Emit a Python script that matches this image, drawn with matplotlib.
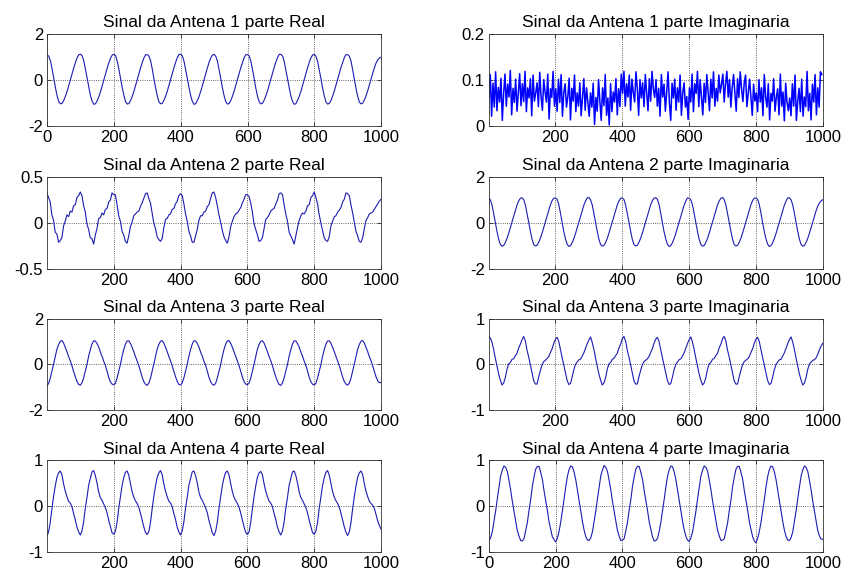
import matplotlib
matplotlib.use('Agg')

import numpy as np
import matplotlib.pyplot as plt

# sample index grid, one value every 5 samples (noise panel: every 4)
x = np.arange(0, 1001, 5)
x_noise = np.arange(1, 1001, 4)

# Antena 1, parte real
a1_real = [
    1.10, 1.04, 0.83, 0.46, 0.04, -0.36, -0.71, -0.96, -1.04, -1.01, -0.87, -0.69, -0.47, -0.21, 0.06, 0.31, 0.56, 0.79, 0.99, 1.11,
    1.13, 1.05, 0.81, 0.44, 0.06, -0.34, -0.70, -0.94, -1.06, -1.03, -0.89, -0.71, -0.49, -0.23, 0.04, 0.29, 0.54, 0.77, 0.97, 1.10,
    1.12, 1.06, 0.82, 0.45, 0.05, -0.35, -0.69, -0.95, -1.05, -1.02, -0.88, -0.70, -0.48, -0.22, 0.05, 0.30, 0.55, 0.78, 0.98, 1.11,
    1.11, 1.04, 0.83, 0.46, 0.03, -0.36, -0.71, -0.96, -1.04, -1.01, -0.87, -0.70, -0.47, -0.21, 0.06, 0.31, 0.56, 0.79, 0.99, 1.12,
    1.13, 1.05, 0.81, 0.44, 0.05, -0.34, -0.70, -0.94, -1.06, -1.03, -0.88, -0.71, -0.49, -0.23, 0.04, 0.29, 0.54, 0.78, 0.97, 1.10,
    1.12, 1.04, 0.82, 0.45, 0.06, -0.35, -0.69, -0.95, -1.05, -1.02, -0.89, -0.70, -0.48, -0.22, 0.05, 0.30, 0.55, 0.77, 0.98, 1.11,
    1.11, 1.06, 0.83, 0.46, 0.04, -0.36, -0.71, -0.96, -1.04, -1.01, -0.87, -0.69, -0.47, -0.21, 0.06, 0.31, 0.56, 0.79, 0.99, 1.12,
    1.13, 1.05, 0.81, 0.44, 0.05, -0.34, -0.70, -0.94, -1.06, -1.03, -0.88, -0.71, -0.49, -0.23, 0.04, 0.29, 0.54, 0.78, 0.97, 1.10,
    1.12, 1.04, 0.82, 0.45, 0.06, -0.35, -0.69, -0.95, -1.05, -1.02, -0.89, -0.70, -0.48, -0.22, 0.05, 0.30, 0.55, 0.77, 0.98, 1.11,
    1.11, 1.05, 0.83, 0.46, 0.04, -0.36, -0.71, -0.96, -1.04, -1.01, -0.87, -0.69, -0.47, -0.21, 0.06, 0.30, 0.53, 0.74, 0.88, 0.96,
    1.00,
]

# Antena 1, parte imaginaria (ruido)
a1_imag = [
    0.062, 0.112, 0.021, 0.093, 0.041, 0.118, 0.033, 0.084, 0.052, 0.104, 0.012, 0.071, 0.113, 0.043, 0.091, 0.063, 0.121, 0.024, 0.082, 0.051, 0.102, 0.032, 0.073, 0.114, 0.044,
    0.092, 0.053, 0.119, 0.031, 0.083, 0.061, 0.103, 0.022, 0.111, 0.054, 0.072, 0.094, 0.042, 0.117, 0.064, 0.034, 0.101, 0.074, 0.052, 0.113, 0.015, 0.081, 0.062, 0.119, 0.043,
    0.081, 0.032, 0.102, 0.051, 0.112, 0.021, 0.073, 0.092, 0.041, 0.063, 0.104, 0.013, 0.082, 0.054, 0.111, 0.031, 0.072, 0.043, 0.094, 0.022, 0.061, 0.103, 0.034, 0.083, 0.052,
    0.021, 0.072, 0.041, 0.093, 0.003, 0.062, 0.032, 0.101, 0.053, 0.012, 0.083, 0.044, 0.112, 0.023, 0.061, 0.002, 0.092, 0.031, 0.074, 0.052, 0.103, 0.024, 0.081, 0.042, 0.113,
    0.071, 0.119, 0.043, 0.092, 0.063, 0.111, 0.034, 0.102, 0.073, 0.052, 0.118, 0.082, 0.023, 0.101, 0.061, 0.094, 0.042, 0.112, 0.071, 0.033, 0.103, 0.054, 0.119, 0.081, 0.062,
    0.101, 0.043, 0.082, 0.021, 0.112, 0.063, 0.091, 0.032, 0.074, 0.118, 0.051, 0.012, 0.093, 0.061, 0.102, 0.034, 0.083, 0.052, 0.111, 0.023, 0.072, 0.094, 0.041, 0.064, 0.014,
    0.083, 0.052, 0.113, 0.031, 0.092, 0.071, 0.119, 0.042, 0.101, 0.063, 0.024, 0.093, 0.051, 0.112, 0.074, 0.033, 0.102, 0.061, 0.118, 0.043, 0.082, 0.054, 0.111, 0.072, 0.091,
    0.113, 0.052, 0.092, 0.119, 0.063, 0.101, 0.041, 0.084, 0.112, 0.071, 0.032, 0.103, 0.062, 0.118, 0.081, 0.053, 0.094, 0.111, 0.042, 0.073, 0.102, 0.061, 0.023, 0.091, 0.054,
    0.072, 0.031, 0.101, 0.052, 0.083, 0.022, 0.112, 0.063, 0.041, 0.092, 0.013, 0.071, 0.054, 0.103, 0.032, 0.062, 0.081, 0.024, 0.113, 0.043, 0.074, 0.011, 0.093, 0.052, 0.033,
    0.061, 0.022, 0.092, 0.043, 0.111, 0.012, 0.053, 0.082, 0.031, 0.102, 0.021, 0.063, 0.042, 0.119, 0.033, 0.071, 0.013, 0.091, 0.052, 0.112, 0.024, 0.083, 0.041, 0.118, 0.112,
]

# Antena 2, parte real
a2_real = [
    0.33, 0.28, 0.23, 0.09, 0.03, -0.10, -0.12, -0.21, -0.19, -0.16, -0.03, 0.02, 0.09, 0.07, 0.13, 0.12, 0.19, 0.20, 0.28, 0.30,
    0.34, 0.30, 0.19, 0.12, -0.01, -0.07, -0.16, -0.17, -0.23, -0.13, -0.06, 0.05, 0.06, 0.11, 0.09, 0.15, 0.16, 0.23, 0.25, 0.33,
    0.31, 0.31, 0.20, 0.08, 0.02, -0.09, -0.13, -0.20, -0.22, -0.14, -0.04, 0.01, 0.08, 0.10, 0.12, 0.13, 0.18, 0.22, 0.27, 0.32,
    0.33, 0.27, 0.22, 0.11, 0.00, -0.06, -0.15, -0.18, -0.20, -0.17, -0.05, 0.04, 0.05, 0.09, 0.10, 0.15, 0.16, 0.21, 0.24, 0.30,
    0.32, 0.30, 0.21, 0.10, 0.02, -0.09, -0.14, -0.21, -0.21, -0.14, -0.07, 0.03, 0.08, 0.08, 0.12, 0.13, 0.18, 0.20, 0.27, 0.33,
    0.34, 0.28, 0.19, 0.09, 0.01, -0.08, -0.15, -0.19, -0.22, -0.15, -0.04, 0.02, 0.07, 0.10, 0.11, 0.14, 0.17, 0.22, 0.26, 0.31,
    0.31, 0.29, 0.22, 0.12, -0.01, -0.07, -0.13, -0.20, -0.19, -0.16, -0.06, 0.04, 0.06, 0.09, 0.13, 0.15, 0.16, 0.21, 0.25, 0.32,
    0.33, 0.31, 0.20, 0.10, 0.02, -0.10, -0.14, -0.18, -0.23, -0.14, -0.05, 0.03, 0.08, 0.11, 0.10, 0.13, 0.19, 0.20, 0.28, 0.30,
    0.34, 0.28, 0.21, 0.09, 0.00, -0.08, -0.16, -0.19, -0.20, -0.15, -0.03, 0.02, 0.07, 0.08, 0.12, 0.14, 0.17, 0.23, 0.26, 0.33,
    0.32, 0.30, 0.20, 0.11, 0.01, -0.09, -0.14, -0.20, -0.21, -0.16, -0.06, 0.03, 0.06, 0.10, 0.11, 0.12, 0.15, 0.18, 0.21, 0.24,
    0.26,
]

# Antena 2, parte imaginaria
a2_imag = [
    1.10, 1.02, 0.80, 0.43, 0.03, -0.36, -0.70, -0.93, -1.01, -0.98, -0.85, -0.67, -0.45, -0.20, 0.06, 0.31, 0.56, 0.79, 0.97, 1.08,
    1.11, 1.03, 0.79, 0.42, 0.04, -0.35, -0.71, -0.94, -1.00, -0.97, -0.84, -0.66, -0.44, -0.19, 0.07, 0.32, 0.57, 0.80, 0.98, 1.09,
    1.09, 1.04, 0.81, 0.44, 0.02, -0.37, -0.69, -0.92, -1.02, -0.99, -0.86, -0.68, -0.46, -0.21, 0.05, 0.30, 0.55, 0.78, 0.96, 1.10,
    1.12, 1.02, 0.80, 0.43, 0.03, -0.36, -0.70, -0.93, -1.01, -0.98, -0.85, -0.67, -0.45, -0.20, 0.06, 0.31, 0.56, 0.79, 0.97, 1.08,
    1.10, 1.03, 0.79, 0.42, 0.04, -0.35, -0.71, -0.94, -1.00, -0.97, -0.84, -0.66, -0.44, -0.19, 0.07, 0.32, 0.57, 0.80, 0.98, 1.09,
    1.11, 1.04, 0.81, 0.44, 0.02, -0.37, -0.69, -0.92, -1.02, -0.99, -0.86, -0.68, -0.46, -0.21, 0.05, 0.30, 0.55, 0.78, 0.96, 1.10,
    1.09, 1.02, 0.80, 0.43, 0.03, -0.36, -0.70, -0.93, -1.01, -0.98, -0.85, -0.67, -0.45, -0.20, 0.06, 0.31, 0.56, 0.79, 0.97, 1.08,
    1.12, 1.03, 0.79, 0.42, 0.04, -0.35, -0.71, -0.94, -1.00, -0.97, -0.84, -0.66, -0.44, -0.19, 0.07, 0.32, 0.57, 0.80, 0.98, 1.09,
    1.10, 1.04, 0.81, 0.44, 0.02, -0.37, -0.69, -0.92, -1.02, -0.99, -0.86, -0.68, -0.46, -0.21, 0.05, 0.30, 0.55, 0.78, 0.96, 1.10,
    1.11, 1.02, 0.80, 0.43, 0.03, -0.36, -0.70, -0.93, -1.01, -0.98, -0.85, -0.67, -0.45, -0.20, 0.06, 0.31, 0.54, 0.74, 0.88, 0.97,
    1.02,
]

# Antena 3, parte real
a3_real = [
    -0.95, -0.84, -0.61, -0.31, 0.01, 0.34, 0.66, 0.87, 1.01, 1.04, 0.93, 0.74, 0.56, 0.34, 0.16, -0.06, -0.31, -0.54, -0.74, -0.88,
    -0.91, -0.81, -0.59, -0.29, 0.00, 0.36, 0.64, 0.89, 1.03, 1.02, 0.91, 0.76, 0.54, 0.36, 0.14, -0.04, -0.29, -0.56, -0.76, -0.86,
    -0.89, -0.83, -0.60, -0.30, -0.01, 0.35, 0.65, 0.88, 1.02, 1.03, 0.92, 0.75, 0.55, 0.35, 0.15, -0.05, -0.30, -0.55, -0.75, -0.87,
    -0.92, -0.82, -0.61, -0.31, 0.01, 0.34, 0.66, 0.87, 1.01, 1.04, 0.93, 0.74, 0.56, 0.34, 0.16, -0.06, -0.31, -0.54, -0.74, -0.88,
    -0.90, -0.81, -0.59, -0.29, 0.00, 0.36, 0.64, 0.89, 1.03, 1.02, 0.91, 0.76, 0.54, 0.36, 0.14, -0.04, -0.29, -0.56, -0.76, -0.87,
    -0.91, -0.83, -0.60, -0.30, -0.01, 0.35, 0.65, 0.88, 1.02, 1.04, 0.92, 0.75, 0.55, 0.35, 0.15, -0.05, -0.30, -0.55, -0.75, -0.86,
    -0.89, -0.82, -0.61, -0.31, 0.01, 0.34, 0.66, 0.87, 1.01, 1.03, 0.93, 0.74, 0.56, 0.34, 0.16, -0.06, -0.31, -0.54, -0.74, -0.88,
    -0.92, -0.81, -0.59, -0.29, 0.00, 0.36, 0.64, 0.89, 1.03, 1.02, 0.91, 0.76, 0.54, 0.36, 0.14, -0.04, -0.29, -0.56, -0.76, -0.87,
    -0.90, -0.83, -0.60, -0.30, -0.01, 0.35, 0.65, 0.88, 1.02, 1.03, 0.92, 0.75, 0.55, 0.35, 0.15, -0.05, -0.30, -0.55, -0.75, -0.86,
    -0.91, -0.82, -0.61, -0.31, 0.01, 0.34, 0.66, 0.87, 1.01, 1.04, 0.93, 0.74, 0.56, 0.34, 0.16, -0.06, -0.31, -0.54, -0.72, -0.80,
    -0.80,
]

# Antena 3, parte imaginaria
a3_imag = [
    0.60, 0.58, 0.49, 0.33, 0.14, -0.03, -0.21, -0.34, -0.45, -0.41, -0.29, -0.11, 0.01, 0.04, 0.11, 0.12, 0.19, 0.24, 0.36, 0.44,
    0.54, 0.61, 0.51, 0.31, 0.16, -0.01, -0.19, -0.36, -0.43, -0.43, -0.27, -0.13, -0.01, 0.06, 0.09, 0.13, 0.17, 0.26, 0.34, 0.46,
    0.55, 0.59, 0.50, 0.32, 0.15, -0.02, -0.20, -0.35, -0.44, -0.42, -0.28, -0.12, 0.00, 0.05, 0.10, 0.11, 0.18, 0.25, 0.35, 0.45,
    0.53, 0.60, 0.48, 0.33, 0.14, -0.03, -0.21, -0.34, -0.45, -0.41, -0.29, -0.11, 0.01, 0.04, 0.11, 0.13, 0.19, 0.24, 0.36, 0.44,
    0.56, 0.61, 0.51, 0.31, 0.16, -0.01, -0.19, -0.36, -0.43, -0.43, -0.27, -0.13, -0.01, 0.06, 0.09, 0.12, 0.17, 0.26, 0.34, 0.46,
    0.55, 0.59, 0.50, 0.32, 0.15, -0.02, -0.20, -0.35, -0.44, -0.42, -0.28, -0.12, 0.00, 0.05, 0.10, 0.12, 0.18, 0.25, 0.35, 0.45,
    0.54, 0.60, 0.49, 0.33, 0.14, -0.03, -0.21, -0.34, -0.45, -0.41, -0.29, -0.11, 0.01, 0.04, 0.11, 0.13, 0.19, 0.24, 0.36, 0.44,
    0.56, 0.61, 0.51, 0.31, 0.16, -0.01, -0.19, -0.36, -0.43, -0.43, -0.27, -0.13, -0.01, 0.06, 0.09, 0.12, 0.17, 0.26, 0.34, 0.46,
    0.55, 0.59, 0.50, 0.32, 0.15, -0.02, -0.20, -0.35, -0.44, -0.42, -0.28, -0.12, 0.00, 0.05, 0.10, 0.11, 0.18, 0.25, 0.35, 0.45,
    0.54, 0.60, 0.49, 0.33, 0.14, -0.03, -0.21, -0.34, -0.45, -0.41, -0.29, -0.11, 0.01, 0.05, 0.09, 0.10, 0.14, 0.22, 0.32, 0.40,
    0.46,
]

# Antena 4, parte real
a4_real = [
    -0.66, -0.56, -0.36, -0.06, 0.21, 0.44, 0.63, 0.73, 0.77, 0.69, 0.49, 0.33, 0.21, 0.11, 0.07, -0.01, -0.16, -0.29, -0.46, -0.56,
    -0.63, -0.54, -0.34, -0.04, 0.19, 0.46, 0.61, 0.75, 0.78, 0.67, 0.51, 0.31, 0.19, 0.13, 0.05, -0.03, -0.14, -0.31, -0.44, -0.58,
    -0.61, -0.55, -0.35, -0.05, 0.20, 0.45, 0.62, 0.74, 0.77, 0.68, 0.50, 0.32, 0.20, 0.12, 0.06, -0.02, -0.15, -0.30, -0.45, -0.57,
    -0.62, -0.56, -0.36, -0.06, 0.21, 0.44, 0.63, 0.73, 0.78, 0.69, 0.49, 0.33, 0.21, 0.11, 0.07, -0.01, -0.16, -0.29, -0.46, -0.56,
    -0.63, -0.54, -0.34, -0.04, 0.19, 0.46, 0.61, 0.75, 0.77, 0.67, 0.51, 0.31, 0.19, 0.13, 0.05, -0.03, -0.14, -0.31, -0.44, -0.58,
    -0.64, -0.55, -0.35, -0.05, 0.20, 0.45, 0.62, 0.74, 0.77, 0.68, 0.50, 0.32, 0.20, 0.12, 0.06, -0.02, -0.15, -0.30, -0.45, -0.57,
    -0.62, -0.56, -0.36, -0.06, 0.21, 0.44, 0.63, 0.73, 0.76, 0.69, 0.49, 0.33, 0.21, 0.11, 0.07, -0.01, -0.16, -0.29, -0.46, -0.56,
    -0.63, -0.54, -0.34, -0.04, 0.19, 0.46, 0.61, 0.75, 0.77, 0.67, 0.51, 0.31, 0.19, 0.13, 0.05, -0.03, -0.14, -0.31, -0.44, -0.58,
    -0.61, -0.55, -0.35, -0.05, 0.20, 0.45, 0.62, 0.74, 0.78, 0.68, 0.50, 0.32, 0.20, 0.12, 0.06, -0.02, -0.15, -0.30, -0.45, -0.57,
    -0.64, -0.56, -0.36, -0.06, 0.21, 0.44, 0.63, 0.73, 0.77, 0.69, 0.49, 0.33, 0.21, 0.11, 0.06, 0.02, -0.05, -0.18, -0.32, -0.42,
    -0.50,
]

# Antena 4, parte imaginaria
a4_imag = [
    -0.75, -0.69, -0.56, -0.34, -0.11, 0.16, 0.41, 0.66, 0.79, 0.88, 0.85, 0.76, 0.57, 0.36, 0.11, -0.11, -0.32, -0.53, -0.65, -0.75,
    -0.76, -0.71, -0.54, -0.36, -0.09, 0.14, 0.43, 0.64, 0.81, 0.87, 0.87, 0.74, 0.59, 0.34, 0.13, -0.09, -0.34, -0.51, -0.67, -0.73,
    -0.78, -0.70, -0.55, -0.35, -0.10, 0.15, 0.42, 0.65, 0.80, 0.88, 0.86, 0.75, 0.58, 0.35, 0.12, -0.10, -0.33, -0.52, -0.66, -0.74,
    -0.75, -0.69, -0.56, -0.34, -0.11, 0.16, 0.41, 0.66, 0.79, 0.89, 0.85, 0.76, 0.57, 0.36, 0.11, -0.11, -0.32, -0.53, -0.65, -0.75,
    -0.74, -0.71, -0.54, -0.36, -0.09, 0.14, 0.43, 0.64, 0.81, 0.87, 0.87, 0.74, 0.59, 0.34, 0.13, -0.09, -0.34, -0.51, -0.67, -0.76,
    -0.75, -0.70, -0.55, -0.35, -0.10, 0.15, 0.42, 0.65, 0.80, 0.88, 0.86, 0.75, 0.58, 0.35, 0.12, -0.10, -0.33, -0.52, -0.66, -0.74,
    -0.77, -0.69, -0.56, -0.34, -0.11, 0.16, 0.41, 0.66, 0.79, 0.88, 0.85, 0.76, 0.57, 0.36, 0.11, -0.11, -0.32, -0.53, -0.65, -0.75,
    -0.74, -0.71, -0.54, -0.36, -0.09, 0.14, 0.43, 0.64, 0.81, 0.87, 0.87, 0.74, 0.59, 0.34, 0.13, -0.09, -0.34, -0.51, -0.67, -0.76,
    -0.80, -0.70, -0.55, -0.35, -0.10, 0.15, 0.42, 0.65, 0.80, 0.88, 0.86, 0.75, 0.58, 0.35, 0.12, -0.10, -0.33, -0.52, -0.66, -0.74,
    -0.75, -0.69, -0.56, -0.34, -0.11, 0.16, 0.41, 0.66, 0.79, 0.88, 0.85, 0.76, 0.57, 0.36, 0.11, -0.11, -0.32, -0.53, -0.65, -0.72,
    -0.72,
]

titles = ['Sinal da Antena 1 parte Real', 'Sinal da Antena 1 parte Imaginaria',
          'Sinal da Antena 2 parte Real', 'Sinal da Antena 2 parte Imaginaria',
          'Sinal da Antena 3 parte Real', 'Sinal da Antena 3 parte Imaginaria',
          'Sinal da Antena 4 parte Real', 'Sinal da Antena 4 parte Imaginaria']
series = [(x, a1_real), (x_noise, a1_imag), (x, a2_real), (x, a2_imag),
          (x, a3_real), (x, a3_imag), (x, a4_real), (x, a4_imag)]
yticks = [[-2, 0, 2], [0, 0.1, 0.2], [-0.5, 0, 0.5], [-2, 0, 2],
          [-2, 0, 2], [-1, 0, 1], [-1, 0, 1], [-1, 0, 1]]
x_start = [0, 1, 1, 1, 1, 1, 1, 0]

plt.rcParams['font.family'] = ['Liberation Sans', 'DejaVu Sans']
plt.rcParams['axes.unicode_minus'] = False

fig = plt.figure(figsize=(8.43, 5.72), dpi=100)

lefts = [0.056, 0.580]
bottoms = [0.780, 0.530, 0.283, 0.035]
w, h = 0.396, 0.160

for i in range(8):
    row, col = divmod(i, 2)
    ax = fig.add_axes([lefts[col], bottoms[row], w, h])
    xs, ys = series[i]
    if i == 1:
        ax.plot(xs, ys, color=(0, 0, 1), linewidth=1.1)
    else:
        ax.plot(xs, ys, color='#1c1cb0', linewidth=0.8)
    ax.set_xlim(x_start[i], 1000)
    ax.set_ylim(yticks[i][0], yticks[i][-1])
    ax.set_xticks([0, 200, 400, 600, 800, 1000] if x_start[i] == 0 else [200, 400, 600, 800, 1000])
    ax.set_yticks(yticks[i])
    ax.set_yticklabels(['%g' % v for v in yticks[i]])
    ax.grid(True, linestyle=':', color='k', linewidth=0.6, alpha=0.8)
    ax.tick_params(direction='in', length=3, width=0.5, labelsize=12,
                   top=True, right=True, pad=3)
    for sp in ax.spines.values():
        sp.set_linewidth(0.6)
        sp.set_color('#333333')
    ax.set_title(titles[i], fontsize=12.5, pad=5)

fig.savefig('out.png', dpi=100)
